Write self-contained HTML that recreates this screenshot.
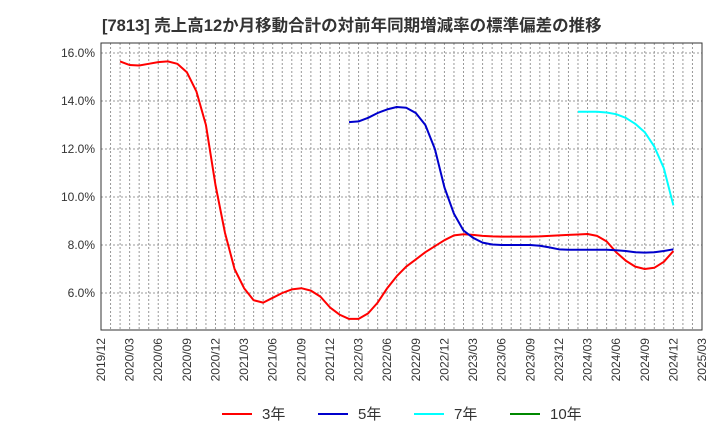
<!DOCTYPE html>
<html><head><meta charset="utf-8"><style>
body{margin:0;background:#fff;width:720px;height:440px;overflow:hidden;font-family:"Liberation Sans","Noto Sans CJK JP",sans-serif}
</style></head><body>
<svg id="chart" width="720" height="440" xmlns="http://www.w3.org/2000/svg">
<text x="102" y="31" font-size="16.5" font-weight="bold" fill="#333" font-family="Liberation Sans, Noto Sans CJK JP, sans-serif">[7813]  売上高12か月移動合計の対前年同期増減率の標準偏差の推移</text>
<g id="grid"></g><g id="axes"></g><g id="series"></g>
<g font-size="15" fill="#333">
<line x1="222" y1="414" x2="252" y2="414" stroke="#f00" stroke-width="2"/><text x="262" y="419">3年</text>
<line x1="318" y1="414" x2="348" y2="414" stroke="#00c" stroke-width="2"/><text x="358" y="419">5年</text>
<line x1="414" y1="414" x2="444" y2="414" stroke="#0ff" stroke-width="2"/><text x="454" y="419">7年</text>
<line x1="510" y1="414" x2="540" y2="414" stroke="#080" stroke-width="2"/><text x="550" y="419">10年</text>
</g>
</svg>
<script>
const yTicks=[6,8,10,12,14,16];
const xLabels=["2019/12","2020/03","2020/06","2020/09","2020/12","2021/03","2021/06","2021/09","2021/12","2022/03","2022/06","2022/09","2022/12","2023/03","2023/06","2023/09","2023/12","2024/03","2024/06","2024/09","2024/12","2025/03"];
const redStart=2;
const red=[15.65,15.5,15.48,15.55,15.62,15.65,15.55,15.2,14.4,13.0,10.5,8.5,7.0,6.2,5.7,5.6,5.8,6.0,6.15,6.2,6.1,5.85,5.4,5.1,4.92,4.92,5.15,5.6,6.2,6.7,7.1,7.4,7.7,7.95,8.2,8.4,8.45,8.42,8.38,8.36,8.35,8.35,8.35,8.35,8.36,8.38,8.4,8.42,8.44,8.46,8.38,8.15,7.7,7.35,7.1,7.0,7.05,7.3,7.75];
const blueStart=26;
const blue=[13.12,13.15,13.3,13.5,13.65,13.75,13.72,13.5,13.0,12.0,10.4,9.3,8.6,8.3,8.1,8.02,8.0,8.0,8.0,8.0,7.97,7.9,7.82,7.8,7.8,7.8,7.8,7.8,7.78,7.75,7.7,7.68,7.7,7.75,7.82];
const cyanStart=50;
const cyan=[13.55,13.55,13.55,13.52,13.45,13.3,13.05,12.7,12.1,11.2,9.65];
const L=101,R=702,T=43,B=330,NM=63;
const x=i=>L+(R-L)*i/NM;
const y=v=>293-(v-6)*24;
const NS="http://www.w3.org/2000/svg";
function mk(t,a,p){const e=document.createElementNS(NS,t);for(const k in a)e.setAttribute(k,a[k]);p.appendChild(e);return e;}
const g=document.getElementById('grid'),ax=document.getElementById('axes'),s=document.getElementById('series');
for(let i=1;i<NM;i++){const l=mk('line',{x1:x(i),x2:x(i),y1:T,y2:B,stroke:'#999','stroke-dasharray':'2,2','stroke-width':1},g);

}
yTicks.forEach(v=>{const l=mk('line',{x1:L,x2:R,y1:y(v),y2:y(v),stroke:'#999','stroke-dasharray':'2,2'},g);


const t=mk('text',{x:L-6,y:y(v)+4,'text-anchor':'end','font-size':12,fill:'#333'},ax);t.textContent=v.toFixed(1)+'%';

});
const fr=mk('rect',{x:L,y:T,width:R-L,height:B-T,fill:'none',stroke:'#333','stroke-width':1},ax);


xLabels.forEach((lb,k)=>{const xx=x(k*3)+4;const t=mk('text',{x:xx,y:B+8,transform:`rotate(-90 ${xx} ${B+8})`,'text-anchor':'end','font-size':12,fill:'#333'},ax);t.textContent=lb;

});
function line(d,st,col,name){const p=mk('polyline',{points:d.map((v,i)=>x(st+i)+','+y(v)).join(' '),fill:'none',stroke:col,'stroke-width':2,'stroke-linejoin':'round'},s);

}
line(red,redStart,'#f00','series-3yr');
line(blue,blueStart,'#00c','series-5yr');
line(cyan,cyanStart,'#0ff','series-7yr');
</script>
</body></html>
